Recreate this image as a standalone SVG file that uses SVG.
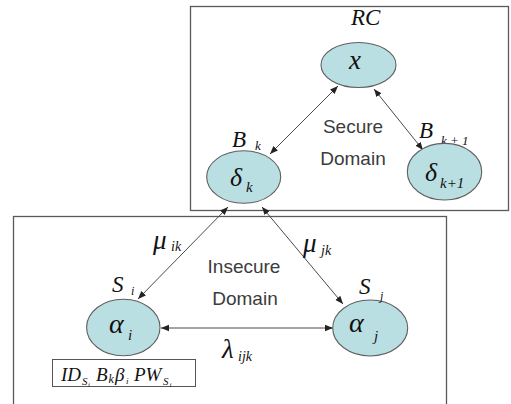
<svg xmlns="http://www.w3.org/2000/svg" width="511" height="404" viewBox="0 0 511 404">
  <style>
    .domain { fill: #ffffff; stroke: #5a5a5a; stroke-width: 1.3; }
    .node { fill: #badfe3; stroke: #5f5f5f; stroke-width: 1.1; }
    .m { font-family: "Liberation Serif", "Times New Roman", serif; font-style: italic; fill: #111111; }
    .lbl { font-family: "Liberation Sans", Arial, sans-serif; font-size: 19px; fill: #3c3c3c; text-anchor: middle; }
    .link { stroke: #4a4a4a; stroke-width: 1; fill: none; marker-start: url(#tip); marker-end: url(#tip); }
    .card { fill: #ffffff; stroke: #555555; stroke-width: 1; }
  </style>
  <defs>
    <marker id="tip" viewBox="0 0 10 10" refX="10" refY="5" markerWidth="8" markerHeight="8" markerUnits="userSpaceOnUse" orient="auto-start-reverse">
      <path d="M0,1 L10,5 L0,9 Z" fill="#222222"/>
    </marker>
  </defs>

  <!-- domain frames -->
  <g id="secure-domain">
    <rect class="domain" x="190.5" y="6.5" width="318" height="204"/>
    <text class="lbl" x="353" y="133">Secure</text>
    <text class="lbl" x="353" y="165">Domain</text>
  </g>
  <g id="insecure-domain">
    <rect class="domain" x="13.5" y="216.5" width="433" height="200"/>
    <text class="lbl" x="244" y="273">Insecure</text>
    <text class="lbl" x="245" y="305">Domain</text>
  </g>

  <!-- connectors -->
  <g id="connectors">
    <line class="link" x1="338" y1="86" x2="270" y2="154"/>
    <line class="link" x1="374" y1="89" x2="423" y2="150"/>
    <line class="link" x1="228" y1="207" x2="138" y2="299"/>
    <line class="link" x1="262" y1="207" x2="343" y2="304"/>
    <line class="link" x1="161" y1="328" x2="333" y2="328"/>
    <text class="m" font-size="27" x="153" y="249">μ</text>
    <text class="m" font-size="14" x="171" y="251">ik</text>
    <text class="m" font-size="27" x="303" y="252">μ</text>
    <text class="m" font-size="14" x="321" y="255">jk</text>
    <text class="m" font-size="27" x="222" y="358">λ</text>
    <text class="m" font-size="14" x="238" y="361">ijk</text>
  </g>

  <!-- RC node -->
  <g id="node-rc">
    <text class="m" font-size="23" x="351" y="25">RC</text>
    <ellipse class="node" cx="358.5" cy="65" rx="37.5" ry="22.5"/>
    <text class="m" font-size="27" x="349" y="69">x</text>
  </g>

  <!-- B_k node -->
  <g id="node-bk">
    <text class="m" font-size="23" x="232" y="147">B</text>
    <text class="m" font-size="13" x="255" y="150">k</text>
    <ellipse class="node" cx="243.7" cy="177" rx="37" ry="26.3"/>
    <text class="m" font-size="26" x="230" y="186">δ</text>
    <text class="m" font-size="15" x="246" y="192">k</text>
  </g>

  <!-- B_k+1 node -->
  <g id="node-bk1">
    <text class="m" font-size="23" x="419" y="138">B</text>
    <text class="m" font-size="13" x="441" y="145">k + 1</text>
    <ellipse class="node" cx="444.5" cy="171.7" rx="37.2" ry="28.3"/>
    <text class="m" font-size="26" x="425" y="181">δ</text>
    <text class="m" font-size="15" x="440" y="188">k+1</text>
  </g>

  <!-- S_i node -->
  <g id="node-si">
    <text class="m" font-size="23" x="112" y="292">S</text>
    <text class="m" font-size="12" x="131" y="295">i</text>
    <ellipse class="node" cx="123.3" cy="327.5" rx="36.7" ry="28.2"/>
    <text class="m" font-size="28" x="109" y="333">α</text>
    <text class="m" font-size="15" x="128" y="340">i</text>
  </g>

  <!-- S_j node -->
  <g id="node-sj">
    <text class="m" font-size="23" x="359" y="294">S</text>
    <ellipse class="node" cx="370.2" cy="328" rx="37.5" ry="28"/>
    <text class="m" font-size="12" x="380" y="300" fill="#5b8fa6">j</text>
    <text class="m" font-size="28" x="349" y="332">α</text>
    <text class="m" font-size="15" x="374" y="341">j</text>
  </g>

  <!-- credentials held by S_i -->
  <g id="si-credentials">
    <rect class="card" x="52.5" y="359.5" width="143" height="27"/>
    <text class="m" font-size="19" x="61" y="381">ID</text>
    <text class="m" font-size="11" x="82" y="385">S</text>
    <text class="m" font-size="7" x="88" y="387">i</text>
    <text class="m" font-size="19" x="96" y="381">B</text>
    <text class="m" font-size="12" x="108.5" y="383">k</text>
    <text class="m" font-size="19" x="115" y="381">β</text>
    <text class="m" font-size="9" x="126" y="384">i</text>
    <text class="m" font-size="19" x="134" y="381">PW</text>
    <text class="m" font-size="11" x="163" y="385">S</text>
    <text class="m" font-size="7" x="169.5" y="387">i</text>
  </g>
</svg>
